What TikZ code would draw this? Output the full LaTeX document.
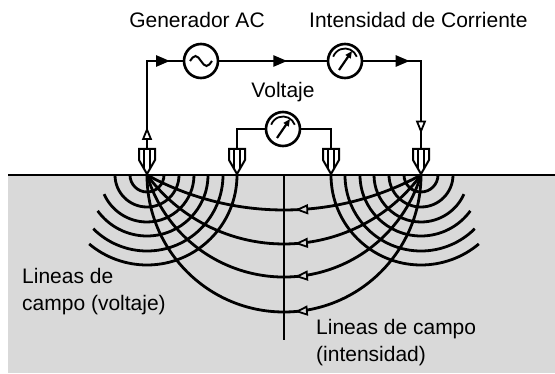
\documentclass[tikz,border=0pt]{standalone}
\usepackage{fontspec}
\setmainfont{Liberation Sans}
\usetikzlibrary{
  arrows.meta,
  decorations.markings
}
\definecolor{soil}{RGB}{217,217,217}

\begin{document}
\begin{tikzpicture}[
  x=1pt, y=1pt,
  wire/.style={line width=2.6pt},
  fieldline/.style={line width=2.8pt},
  meter/.style={draw, circle, line width=2.6pt, minimum size=34pt,
                inner sep=0pt, fill=white},
  lbl/.style={font=\fontsize{21}{27}\selectfont, inner sep=0pt},
  flowmark/.style={postaction={decorate, decoration={markings,
      mark=at position #1 with {\arrow{Triangle[length=14pt,width=11pt]}}}}},
  openmark/.style={postaction={decorate, decoration={markings,
      mark=at position #1 with {\arrow{Triangle[length=13pt,width=10pt,
        line width=1.8pt,fill=white]}}}}}
]
\useasboundingbox (0,0) rectangle (555,373);

% ground
\fill[soil] (8,0) rectangle (555,198);
\draw[line width=2.8pt] (8,198) -- (555,198);

% electrode tips on the surface
\coordinate (tA) at (147,198);
\coordinate (tB) at (421,198);

% current lines from A to B
\foreach \R/\ph/\pos in {285.63/61.34/154, 170.51/36.54/170,
                         143.0/16.66/194, 137/0/226}
  \draw[fieldline, postaction={decorate, decoration={markings,
      mark=at position \pos pt with {\arrowreversed{Triangle[length=13pt,
        width=10pt,line width=1.8pt,fill=soil]}}}}]
    (tA) arc[start angle=180+\ph, end angle=360-\ph, radius=\R pt];

% voltage lines round A and B
\foreach \r/\t in {17/0,32/0,47/24,61/36,76/45,90/50}{
  \draw[fieldline] (tA) ++(\r,0) arc[start angle=0, end angle=-180+\t, radius=\r pt];
  \draw[fieldline] (tB) ++(-\r,0) arc[start angle=180, end angle=360-\t, radius=\r pt];
}

% mid line
\draw[fieldline] (284,198) -- (284,33);

% electrodes
\foreach \x/\n in {147/A,237/M,331/N,421/B}{
  \draw[line width=2pt, fill=white]
    (\x-8,224) -- (\x+8,224) -- (\x+8,213) -- (\x,199) -- (\x-8,213) -- cycle;
  \draw[line width=2pt] (\x-3,224) -- (\x-3,205) (\x+3,224) -- (\x+3,205);
  \coordinate (e\n) at (\x,224);
}

% instruments
\node[meter] (gen)  at (201,312) {};
\node[meter] (amp)  at (345,312) {};
\node[meter] (volt) at (283,244) {};

\draw[line width=2pt] (gen.center) ++(-11,0)
  sin ++(5.5,5) cos ++(5.5,-5) sin ++(5.5,-5) cos ++(5.5,5);
\foreach \m in {amp,volt}{
  \draw[line width=1.8pt] (\m.center) ++(20:12.5) arc[start angle=20, end angle=160, radius=12.5pt];
  \draw[line width=2.2pt, -{Triangle[length=7pt,width=6pt]}]
    (\m.center) ++(-6,-9) -- ++(13,19);
}

% circuit
\draw[wire, openmark=22pt, flowmark=111pt] (eA) -- (eA |- gen) -- (gen);
\draw[wire, flowmark=68pt] (gen) -- (amp);
\draw[wire, flowmark=46.4pt, openmark=130.4pt] (amp) -- (amp -| eB) -- (eB);
\draw[wire] (volt) -- (volt -| eM) -- (eM);
\draw[wire] (volt) -- (volt -| eN) -- (eN);

% labels
\node[lbl, anchor=base] at (197,345) {Generador AC};
\node[lbl, anchor=base west] at (309,345) {Intensidad de Corriente};
\node[lbl, anchor=base] at (283,275) {Voltaje};
\node[lbl, anchor=north west, align=left] at (22,105) {Lineas de\\campo (voltaje)};
\node[lbl, anchor=north west, align=left] at (316,54) {Lineas de campo\\(intensidad)};
\end{tikzpicture}
\end{document}
